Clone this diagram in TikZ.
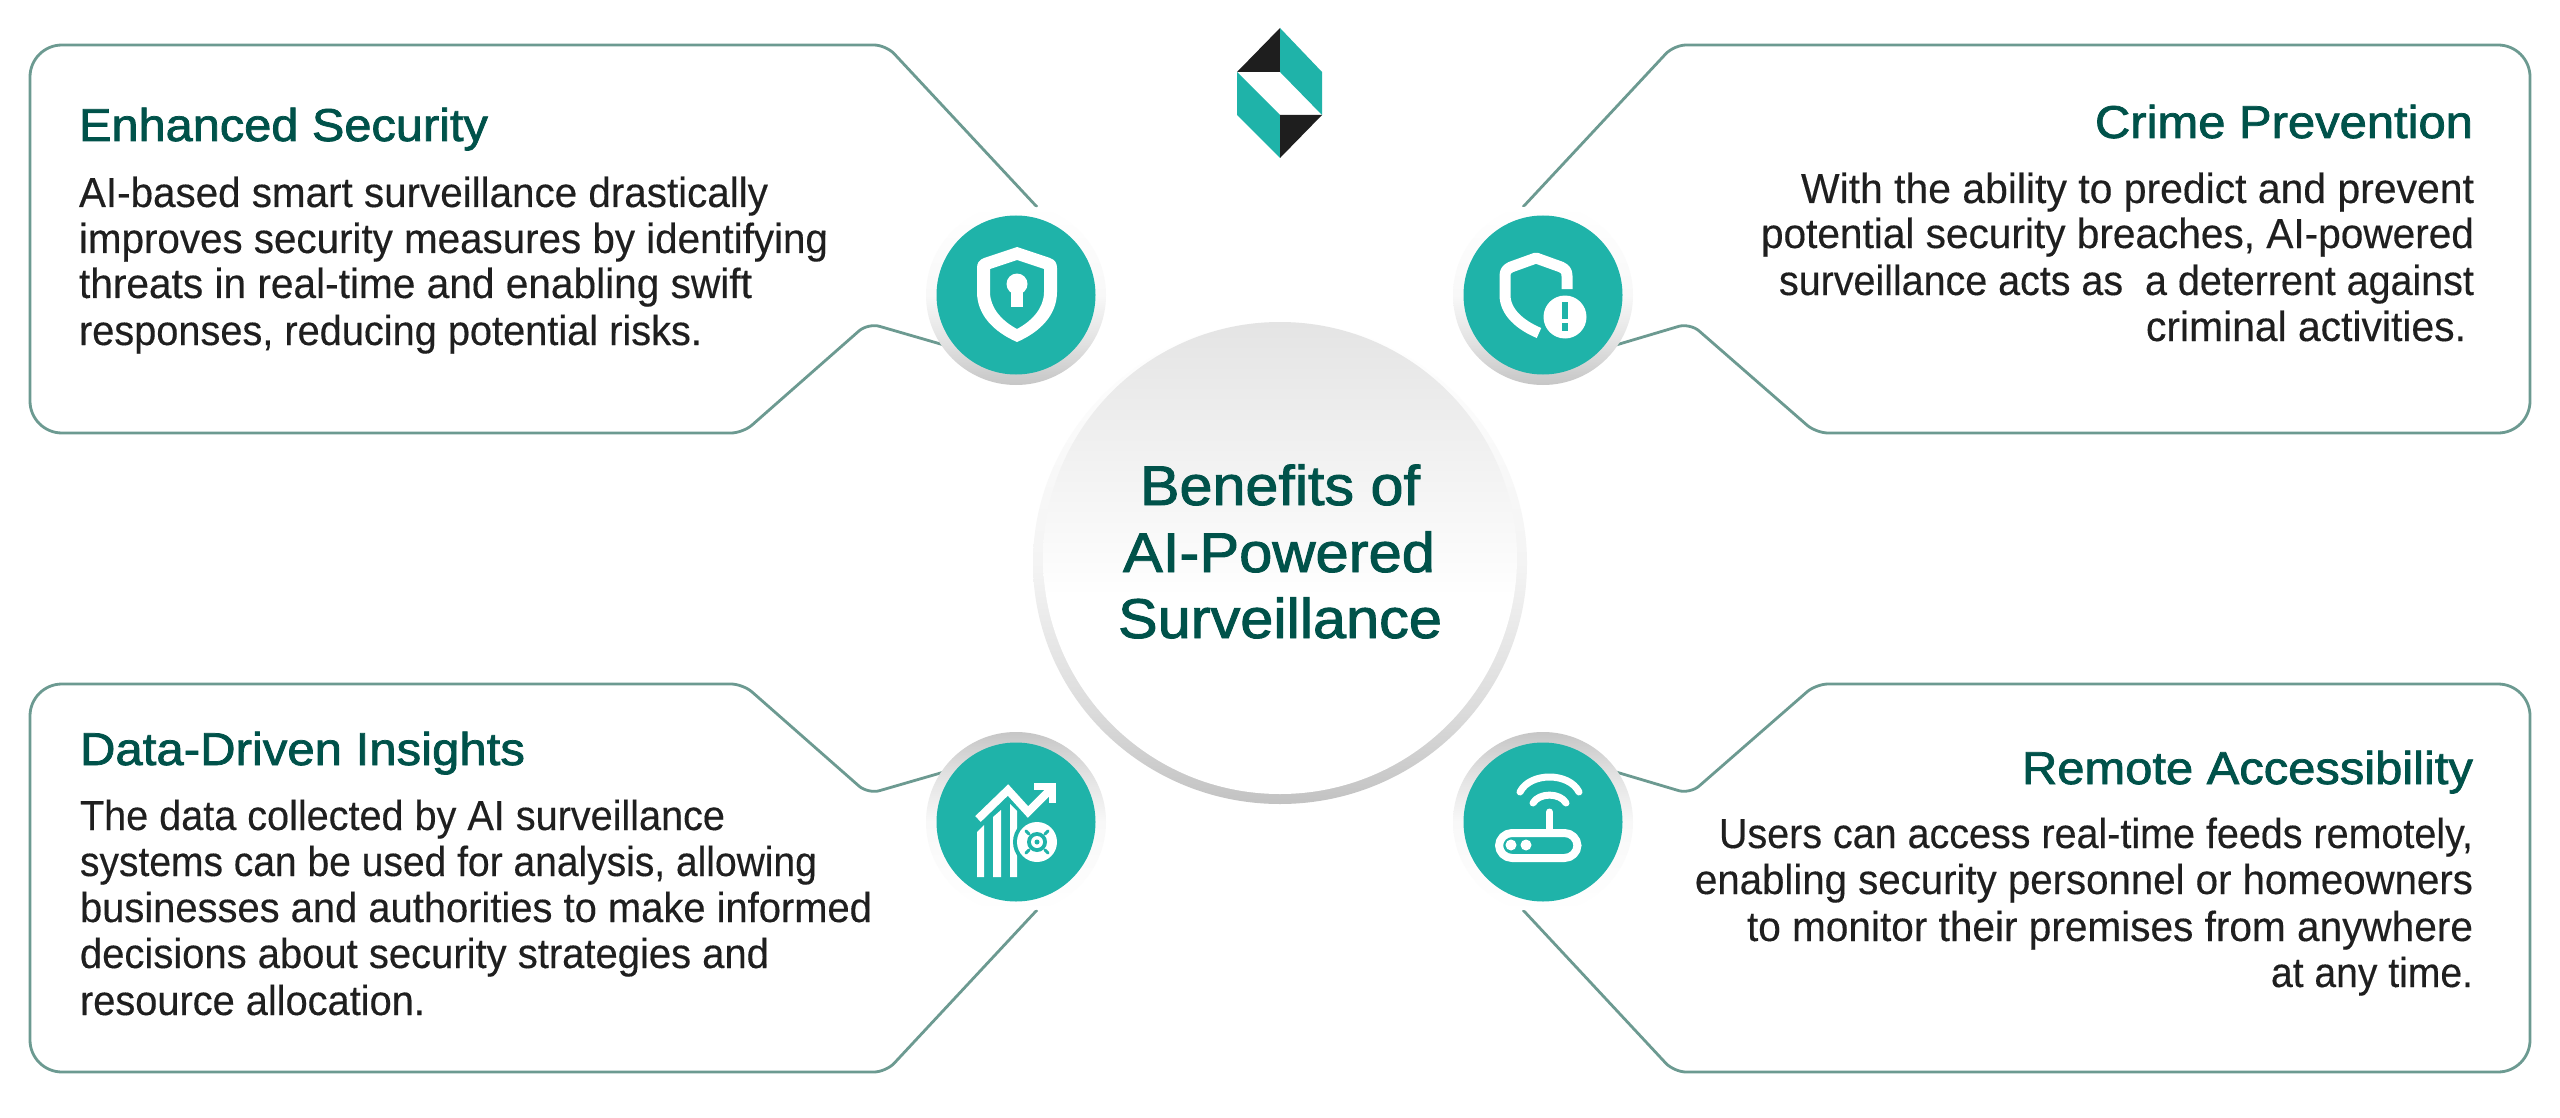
\documentclass[tikz,border=0pt]{standalone}
\usepackage{fontspec}
\usepackage{graphicx}
\setmainfont{Liberation Sans}
\newfontfamily\medfont[FakeBold=1.6]{Liberation Sans}
\newfontfamily\bodyfont[FakeBold=0.3]{Liberation Sans}
\definecolor{tealc}{HTML}{1FB3A9}
\definecolor{titlec}{HTML}{00524A}
\definecolor{bodyc}{HTML}{1F1F1F}
\definecolor{linec}{HTML}{6C9A91}
\definecolor{logok}{HTML}{1E1E1E}
\definecolor{gMidA}{HTML}{F8F8F8}
\definecolor{gMidB}{HTML}{F4F4F4}
\definecolor{gMidC}{HTML}{FBFBFB}
\definecolor{gLowA}{HTML}{E2E2E2}
\definecolor{gLowB}{HTML}{DCDCDC}
\definecolor{gRing}{HTML}{C2C2C2}
\definecolor{gHalo}{HTML}{C6C6C6}
\definecolor{gTop}{HTML}{E4E4E4}
\pgfdeclareverticalshading{haloup}{100bp}{color(0bp)=(gHalo); color(25bp)=(gHalo); color(37bp)=(gLowA); color(50bp)=(gMidA); color(75bp)=(white); color(100bp)=(white)}
\pgfdeclareverticalshading{halodown}{100bp}{color(0bp)=(white); color(25bp)=(white); color(50bp)=(gMidA); color(63bp)=(gLowA); color(75bp)=(gHalo); color(100bp)=(gHalo)}
\pgfdeclareverticalshading{ringshade}{100bp}{color(0bp)=(gRing); color(25bp)=(gRing); color(35bp)=(gLowB); color(50bp)=(gMidB); color(75bp)=(white); color(100bp)=(white)}
\pgfdeclareverticalshading{discshade}{100bp}{color(0bp)=(white); color(46bp)=(white); color(50bp)=(gMidC); color(75bp)=(gTop); color(100bp)=(gTop)}
\tikzset{
  callout/.style={draw=linec,line width=2.8pt,line join=round},
  tline/.style={inner sep=0pt,outer sep=0pt},
  iconline/.style={draw=white,line join=round},
  tealdisc/.style={circle,fill=tealc,inner sep=0pt,minimum size=159pt},
}
\newcommand{\titleL}[5]{\node[tline,anchor=base west,text=titlec](#1) at (#2,#3){\resizebox{#4pt}{\height}{\fontsize{46}{50}\medfont #5}};}
\newcommand{\titleR}[5]{\node[tline,anchor=base east,text=titlec](#1) at (#2,#3){\resizebox{#4pt}{\height}{\fontsize{46}{50}\medfont #5}};}
\newcommand{\bodyL}[5]{\node[tline,anchor=base west,text=bodyc](#1) at (#2,#3){\resizebox{#4pt}{\height}{\fontsize{42}{46}\bodyfont #5}};}
\newcommand{\bodyR}[5]{\node[tline,anchor=base east,text=bodyc](#1) at (#2,#3){\resizebox{#4pt}{\height}{\fontsize{42}{46}\bodyfont #5}};}
\newcommand{\centerT}[5]{\node[tline,anchor=base west,text=titlec](#1) at (#2,#3){\resizebox{#4pt}{\height}{\fontsize{56}{66}\medfont #5}};}
\begin{document}
\begin{tikzpicture}[x=1pt,y=-1pt]
\useasboundingbox (0,0) rectangle (2560,1118);
\fill[white] (0,0) rectangle (2560,1118);

% callout outlines
\draw[callout] (1037,207) [rounded corners=12pt] -- (886,45) [rounded corners=32pt] -- (30,45) -- (30,433) [rounded corners=12pt] -- (743,433) -- (868,323) -- (944,345);
\draw[callout] (1523,207) [rounded corners=12pt] -- (1674,45) [rounded corners=32pt] -- (2530,45) -- (2530,433) [rounded corners=12pt] -- (1816,433) -- (1690,323) -- (1616,345);
\draw[callout] (1037,910) [rounded corners=12pt] -- (886,1072) [rounded corners=32pt] -- (30,1072) -- (30,684) [rounded corners=12pt] -- (743,684) -- (868,794) -- (944,772);
\draw[callout] (1523,910) [rounded corners=12pt] -- (1674,1072) [rounded corners=32pt] -- (2530,1072) -- (2530,684) [rounded corners=12pt] -- (1816,684) -- (1690,794) -- (1616,772);

% logo
\fill[logok] (1280,28) -- (1237,72) -- (1280,72) -- cycle;
\fill[tealc] (1280,28) -- (1322,72) -- (1322,115) -- (1280,72) -- cycle;
\fill[tealc] (1237,72) -- (1280,115) -- (1280,158) -- (1237,115) -- cycle;
\fill[logok] (1280,115) -- (1322,115) -- (1280,158) -- cycle;

% centre disc
\shade[shading=ringshade] (1280,563) ellipse [x radius=247pt,y radius=241pt];
\shade[shading=discshade] (1280,558) ellipse [x radius=237pt,y radius=236pt];
\centerT{ct1}{1140}{505}{280}{Benefits of}
\centerT{ct2}{1123}{572}{312}{AI-Powered}
\centerT{ct3}{1118}{638}{324}{Surveillance}

% icon halos and discs
\shade[shading=haloup] (1016,295) circle [radius=90pt];
\shade[shading=haloup] (1543,295) circle [radius=90pt];
\shade[shading=halodown] (1016,822) circle [radius=90pt];
\shade[shading=halodown] (1543,822) circle [radius=90pt];
\node[tealdisc] (d1) at (1016,295) {};
\node[tealdisc] (d2) at (1543,295) {};
\node[tealdisc] (d3) at (1016,822) {};
\node[tealdisc] (d4) at (1543,822) {};

% icon 1: shield with keyhole
\fill[white,even odd rule]
  (1017,247) -- (1050,258) .. controls (1055,260) and (1057,263) .. (1057,268) -- (1057,292)
  .. controls (1057,315) and (1040,332) .. (1017,342)
  .. controls (994,332) and (977,315) .. (977,292) -- (977,268)
  .. controls (977,263) and (979,260) .. (984,258) -- cycle
  (1017,260) -- (1044,269) -- (1044,292) .. controls (1044,308) and (1032,321) .. (1017,329)
  .. controls (1002,321) and (990,308) .. (990,292) -- (990,269) -- cycle;
\fill[white] (1017,284) circle [radius=10.5pt];
\fill[white] (1011,286) rectangle (1023,307);

% icon 2: shield with warning badge
\draw[iconline,line width=11pt,line cap=butt] (1567,289) -- (1567,276) .. controls (1567,271) and (1565,269) .. (1561,267) -- (1536,258) -- (1511,267) .. controls (1507,269) and (1505,271) .. (1505,276) -- (1505,295) .. controls (1505,312) and (1520,325) .. (1539,333);
\fill[white] (1565,317) circle [radius=21.5pt];
\fill[tealc] (1562,302) rectangle (1568,319);
\fill[tealc] (1562,323) rectangle (1568,331);

% icon 3: chart with badge
\fill[white] (977,832) -- (984,825) -- (984,877) -- (977,877) -- cycle;
\fill[white] (993,817) -- (1001,810) -- (1001,877) -- (993,877) -- cycle;
\fill[white] (1010,804) -- (1017,811) -- (1017,877) -- (1010,877) -- cycle;
\draw[iconline,line width=8pt,line join=miter] (978,819) -- (1008,790) -- (1028,812) -- (1052,788);
\draw[iconline,line width=7pt,line join=miter] (1034,786.5) -- (1052.5,786.5) -- (1052.5,803);
\fill[tealc] (1037,842) circle [radius=24pt];
\fill[white] (1037,842) circle [radius=20pt];
\fill[tealc] (1037,842) circle [radius=10pt];
\fill[white] (1037,842) circle [radius=6pt];
\fill[tealc] (1037,842) circle [radius=2.5pt];
\draw[tealc,line width=3pt,line cap=round] (1029,834) -- (1026,831) (1045,834) -- (1048,831) (1029,850) -- (1026,853) (1045,850) -- (1048,853);

% icon 4: router
\draw[iconline,line width=8pt,rounded corners=13pt] (1499,833) rectangle (1577.5,858);
\fill[white] (1511,845) circle [radius=5.5pt];
\fill[white] (1526,845) circle [radius=5.5pt];
\draw[iconline,line width=7pt,line cap=round] (1549.5,812) -- (1549.5,830);
\draw[iconline,line width=7pt,line cap=round] (1520,792) .. controls (1530,772) and (1569,772) .. (1579,792);
\draw[iconline,line width=7pt,line cap=round] (1533,803) .. controls (1539,792.5) and (1560,792.5) .. (1566,803);

% texts: Enhanced Security
\titleL{t1}{79}{141}{409}{Enhanced Security}
\bodyL{b11}{79}{207}{689}{AI-based smart surveillance drastically}
\bodyL{b12}{79}{253}{749}{improves security measures by identifying}
\bodyL{b13}{79}{298}{673}{threats in real-time and enabling swift}
\bodyL{b14}{79}{345}{623}{responses, reducing potential risks.}
% Crime Prevention
\titleR{t2}{2473}{138}{378}{Crime Prevention}
\bodyR{b21}{2474}{203}{673}{With the ability to predict and prevent}
\bodyR{b22}{2474}{248}{713}{potential security breaches, AI-powered}
\bodyR{b23}{2474}{295}{695}{surveillance acts as\ \ a deterrent against}
\bodyR{b24}{2466}{341}{320}{criminal activities.}
% Data-Driven Insights
\titleL{t3}{80}{765}{445}{Data-Driven Insights}
\bodyL{b31}{80}{830}{645}{The data collected by AI surveillance}
\bodyL{b32}{80}{876}{737}{systems can be used for analysis, allowing}
\bodyL{b33}{80}{922}{792}{businesses and authorities to make informed}
\bodyL{b34}{80}{968}{689}{decisions about security strategies and}
\bodyL{b35}{80}{1015}{345}{resource allocation.}
% Remote Accessibility
\titleR{t4}{2473}{784}{451}{Remote Accessibility}
\bodyR{b41}{2473}{848}{754}{Users can access real-time feeds remotely,}
\bodyR{b42}{2473}{894}{778}{enabling security personnel or homeowners}
\bodyR{b43}{2473}{941}{726}{to monitor their premises from anywhere}
\bodyR{b44}{2473}{987}{202}{at any time.}
\end{tikzpicture}
\end{document}
